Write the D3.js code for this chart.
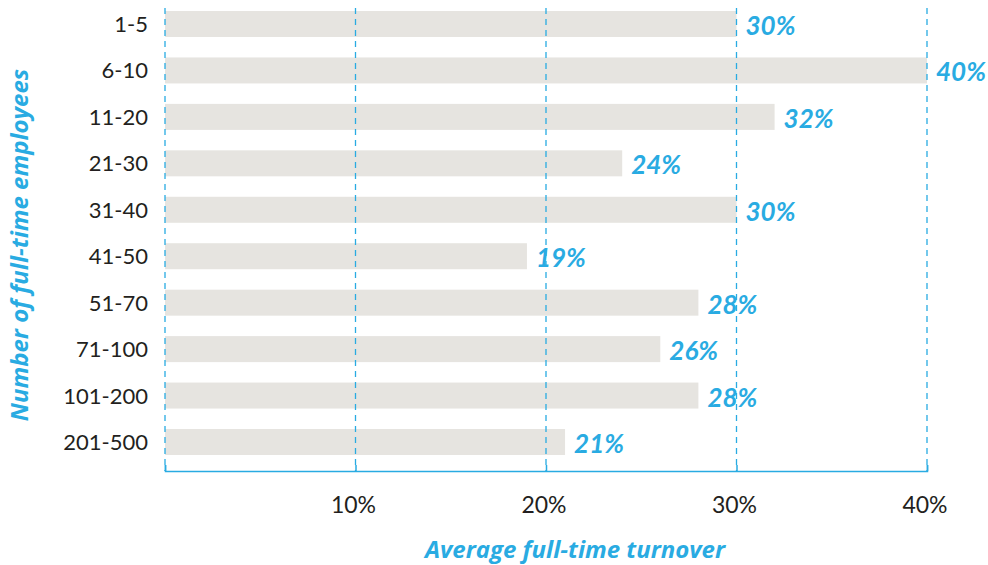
<!DOCTYPE html>
<html>
<head>
<meta charset="utf-8">
<script src="https://cdn.jsdelivr.net/npm/d3@7"></script>
<style>
  body { margin: 0; background: #fff; }
  svg text { font-family: Lato, "Open Sans", sans-serif; }
</style>
</head>
<body>
<div id="chart"></div>
<script>
// data
const groups = ["1-5", "6-10", "11-20", "21-30", "31-40", "41-50", "51-70", "71-100", "101-200", "201-500"];
const turnover = [30, 40, 32, 24, 30, 19, 28, 26, 28, 21];
const ticks = [0, 10, 20, 30, 40];

const width = 988, height = 565;
const blue = "#29abe2";

let svg = d3.select("#chart")
    .append("svg")
    .attr("width", width)
    .attr("height", height);

let x = d3.scaleLinear()
    .domain([0, 40])
    .range([165, 927]);

let y = d3.scaleBand()
    .domain(groups)
    .range([11, 455])
    .paddingInner(0.44)
    .paddingOuter(0);

const axisY = 471;

// bars first, grid goes over them
svg.selectAll("rect.bar")
    .data(groups)
    .enter()
    .append("rect")
    .attr("class", "bar")
    .attr("x", x(0))
    .attr("y", d => y(d))
    .attr("width", (d, i) => x(turnover[i]) - x(0))
    .attr("height", y.bandwidth())
    .attr("fill", "#e6e4e0");

// dashed grid lines
svg.selectAll("line.grid")
    .data(ticks)
    .enter()
    .append("line")
    .attr("class", "grid")
    .attr("x1", d => x(d))
    .attr("x2", d => x(d))
    .attr("y1", 8)
    .attr("y2", axisY)
    .attr("stroke", blue)
    .attr("stroke-width", 1.3)
    .attr("stroke-dasharray", "6,5");

// bottom axis
let xAxis = svg.append("g")
    .attr("transform", `translate(0, ${axisY})`)
    .call(d3.axisBottom(x).tickValues(ticks).tickSize(-6).tickFormat(""));
xAxis.select(".domain").attr("stroke", blue).attr("stroke-width", 1.5);
xAxis.selectAll(".tick line").attr("stroke", blue).attr("stroke-width", 1.5);

// tick labels (no label at 0)
svg.selectAll("text.tick")
    .data(ticks.filter(d => d > 0))
    .enter()
    .append("text")
    .attr("class", "tick")
    .attr("x", d => x(d) - 2)
    .attr("y", 513)
    .attr("text-anchor", "middle")
    .attr("font-size", 23)
    .attr("fill", "#231f20")
    .text(d => d + "%");

// category labels
svg.selectAll("text.cat")
    .data(groups)
    .enter()
    .append("text")
    .attr("class", "cat")
    .attr("x", 148)
    .attr("y", d => y(d) + y.bandwidth() / 2 + 8)
    .attr("text-anchor", "end")
    .attr("font-size", 22)
    .attr("fill", "#231f20")
    .text(d => d);

// value labels
svg.selectAll("text.val")
    .data(groups)
    .enter()
    .append("text")
    .attr("class", "val")
    .attr("x", (d, i) => x(turnover[i]) + 9)
    .attr("y", d => y(d) + y.bandwidth() / 2 + 11)
    .attr("font-size", 26)
    .attr("font-weight", "bold")
    .attr("font-style", "italic")
    .attr("fill", blue)
    .text((d, i) => turnover[i] + "%");

// axis titles
svg.append("text")
    .attr("x", (x(0) + x(40)) / 2 + 29)
    .attr("y", 558)
    .attr("text-anchor", "middle")
    .attr("font-size", 24)
    .attr("font-weight", "bold")
    .attr("font-style", "italic")
    .attr("fill", blue)
    .style("font-family", "'Open Sans', sans-serif")
    .text("Average full-time turnover");

svg.append("text")
    .attr("transform", `translate(28, ${245}) rotate(-90)`)
    .attr("text-anchor", "middle")
    .attr("font-size", 24)
    .attr("font-weight", "bold")
    .attr("font-style", "italic")
    .attr("fill", blue)
    .style("font-family", "'Open Sans', sans-serif")
    .text("Number of full-time employees");
</script>
</body>
</html>
